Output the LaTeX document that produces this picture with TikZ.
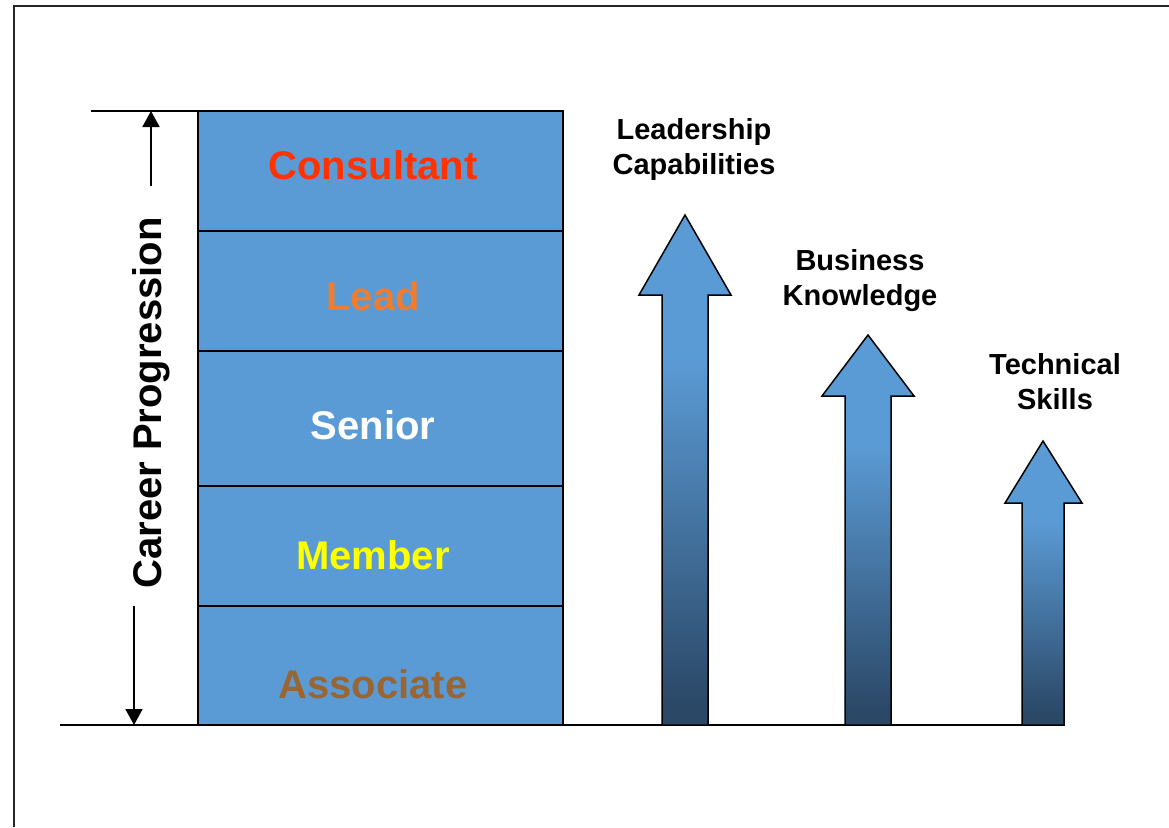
\documentclass[tikz,border=0pt]{standalone}
\usepackage{fontspec}
\setmainfont{Liberation Sans}
\usetikzlibrary{arrows.meta}
\definecolor{boxblue}{HTML}{5B9BD5}
\definecolor{darkblue}{HTML}{2B4867}
\definecolor{consred}{HTML}{FF3300}
\definecolor{leadorange}{HTML}{ED7D31}
\definecolor{memyellow}{HTML}{FFFF00}
\definecolor{assocbrown}{HTML}{996633}
\pgfdeclareverticalshading{arrowshade}{100bp}{color(0bp)=(darkblue); color(27bp)=(darkblue); color(61bp)=(boxblue); color(100bp)=(boxblue)}
\begin{document}
\begin{tikzpicture}[x=1pt,y=-1pt,
  tier/.style={draw=black, line width=1.5pt, fill=boxblue, minimum width=365pt, inner sep=0pt, outer sep=0pt},
  tiertext/.style={anchor=base, font=\bfseries\fontsize{40}{48}\selectfont, inner sep=0pt},
  skilltext/.style={anchor=north, align=center, inner sep=0pt, font=\bfseries\fontsize{29}{35}\selectfont},
  bigarrow/.style={draw=black, line width=1.5pt, shading=arrowshade},
  guide/.style={line width=1.8pt, -{Triangle[width=17pt,length=16pt]}},
  rule/.style={line width=1.8pt}
]
\useasboundingbox (0,0) rectangle (1169,827);
% frame
\draw[line width=2pt, black!85] (14,827) -- (14,6) -- (1169,6);
% base and top lines
\coordinate (baseL) at (60,725);
\coordinate (baseR) at (1065,725);
\coordinate (topL) at (91,111);
\coordinate (topR) at (563,111);
\draw[rule] (baseL) -- (baseR);
\draw[rule] (topL) -- (topR);
% tiers
\node[tier, minimum height=120pt] (consultant) at (380.5,171) {};
\node[tier, minimum height=120pt] (lead) at (380.5,291) {};
\node[tier, minimum height=135pt] (senior) at (380.5,418.5) {};
\node[tier, minimum height=120pt] (member) at (380.5,546) {};
\node[tier, minimum height=119pt] (associate) at (380.5,665.5) {};
\node[tiertext, text=consred] (tconsultant) at (373,179) {Consultant};
\node[tiertext, text=leadorange] (tlead) at (373,310) {Lead};
\node[tiertext, text=white] (tsenior) at (373,439) {Senior};
\node[tiertext, text=memyellow] (tmember) at (373,569) {Member};
\node[tiertext, text=assocbrown] (tassociate) at (373,698) {Associate};
% career progression
\node[tiertext, rotate=90] (career) at (161,403) {Career Progression};
\coordinate (upS) at (151,186);
\coordinate (upE) at (151,111);
\coordinate (dnS) at (134,606);
\coordinate (dnE) at (134,725);
\draw[guide] (upS) -- (upE);
\draw[guide] (dnS) -- (dnE);
% skill arrows
\path[bigarrow] (662,725) -- (662,295) -- (639,295) -- (685,215) -- (731,295) -- (708,295) -- (708,725) -- cycle;
\path[bigarrow] (845,725) -- (845,396) -- (822,396) -- (868,335) -- (914,396) -- (891,396) -- (891,725) -- cycle;
\path[bigarrow] (1022,725) -- (1022,503) -- (1005,503) -- (1043,441) -- (1082,503) -- (1064,503) -- (1064,725) -- cycle;
% skill labels
\node[skilltext] (lcap) at (694,118) {Leadership\\Capabilities};
\node[skilltext] (bknow) at (860,249) {Business\\Knowledge};
\node[skilltext] (tskill) at (1055,353) {Technical\\Skills};
\end{tikzpicture}
\end{document}
